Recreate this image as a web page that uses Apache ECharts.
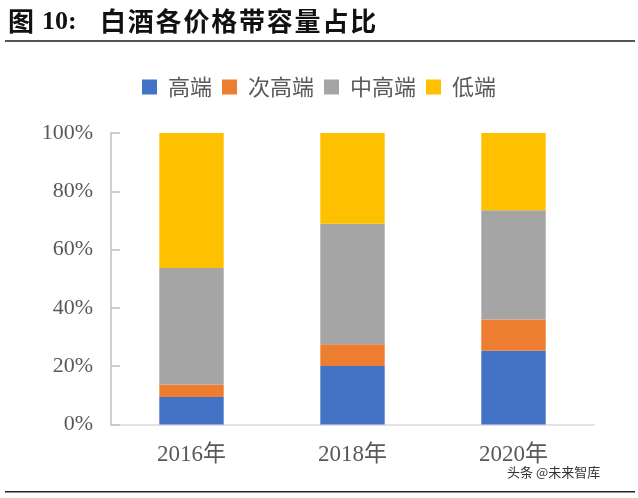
<!DOCTYPE html>
<html>
<head>
<meta charset="utf-8">
<script src="https://cdn.jsdelivr.net/npm/echarts@6/dist/echarts.min.js"></script>
<style>html,body{margin:0;padding:0;background:#fff;}#c{width:638px;height:498px;}</style>
</head>
<body>
<div id="c"></div>
<script>
const categories = ['2016年', '2018年', '2020年'];
const seriesNames = ['高端', '次高端', '中高端', '低端'];
const high = [9.4, 20.1, 25.3];
const subHigh = [4.3, 7.4, 10.7];
const midHigh = [40.0, 41.4, 37.5];
const low = [46.3, 31.1, 26.5];
const yTicks = [0, 20, 40, 60, 80, 100];
const colors = ['#4472C4', '#ED7D31', '#A5A5A5', '#FFC000'];
const values = [high, subHigh, midHigh, low];
const titleText = '白酒各价格带容量占比';

const chart = echarts.init(document.getElementById('c'), null, {renderer: 'canvas'});
const cjk = '"Noto Sans CJK SC", sans-serif';
const serif = '"Liberation Serif", "Times New Roman", serif';

const titleChars = titleText.split('').map((ch, i) => ({
  type: 'text', left: 100 + i * 27.8, top: 8,
  style: {text: ch, font: 'bold 26px ' + cjk, fill: '#111'}
}));

chart.setOption({
  animation: false,
  backgroundColor: '#fff',
  color: colors,
  legend: {
    data: seriesNames,
    top: 71,
    left: 'center',
    itemWidth: 15,
    itemHeight: 15,
    itemGap: 10,
    icon: 'rect',
    textStyle: {fontSize: 22, color: '#595959', fontFamily: cjk, padding: [0, 0, 0, 6]}
  },
  grid: {left: 111, right: 44, top: 133, bottom: 73.5, containLabel: false},
  xAxis: {
    type: 'category',
    data: categories,
    axisLine: {lineStyle: {color: '#D9D9D9', width: 1.5}},
    axisTick: {show: false},
    axisLabel: {fontSize: 23, color: '#595959', fontFamily: serif + ', ' + cjk, margin: 19}
  },
  yAxis: {
    type: 'value',
    min: yTicks[0],
    max: yTicks[yTicks.length - 1],
    interval: 20,
    axisLine: {show: true, lineStyle: {color: '#BFBFBF', width: 1.5}},
    axisTick: {show: true, inside: true, length: 9, lineStyle: {color: '#BFBFBF', width: 1.5}},
    splitLine: {show: false},
    axisLabel: {formatter: '{value}%', fontSize: 22, color: '#595959', fontFamily: serif, margin: 18}
  },
  series: seriesNames.map((n, i) => ({
    name: n,
    type: 'bar',
    stack: 'total',
    barWidth: '40%',
    data: values[i],
    itemStyle: {color: colors[i]}
  })),
  graphic: [
    {type: 'text', left: 8, top: 8, style: {text: '图', font: 'bold 26px ' + cjk, fill: '#111'}},
    {type: 'text', left: 42, top: 9, style: {text: '10:', font: 'bold 26px ' + serif, fill: '#111'}},
    ...titleChars,
    {type: 'rect', shape: {x: 5, y: 40, width: 630, height: 2}, style: {fill: '#555'}},
    {type: 'text', left: 507, top: 466, style: {text: '头条 @未来智库', font: '13px ' + cjk, fill: '#333'}},
    {type: 'rect', shape: {x: 5, y: 491, width: 630, height: 1.5}, style: {fill: '#222'}}
  ]
});
</script>
</body>
</html>
